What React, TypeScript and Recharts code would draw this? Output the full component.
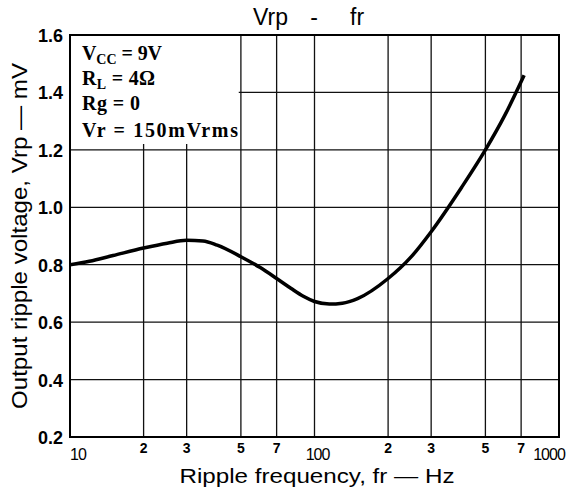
import { useEffect } from "react";
import {
  CartesianGrid,
  Line,
  LineChart,
  ReferenceArea,
  XAxis,
  YAxis,
} from "recharts";

// ripple frequency (Hz) vs output ripple voltage (mV)
const freq = [10, 12, 15, 20, 25, 30, 35, 40, 50, 60, 70, 80, 90, 100, 115, 130, 150, 200, 250, 300, 400, 500, 600, 720];
const vrp = [0.8, 0.812, 0.832, 0.858, 0.875, 0.885, 0.883, 0.868, 0.828, 0.79, 0.752, 0.718, 0.69, 0.672, 0.663, 0.666, 0.682, 0.752, 0.83, 0.915, 1.07, 1.2, 1.32, 1.46];

const xTicks = [10, 20, 30, 50, 70, 100, 200, 300, 500, 700, 1000];
const xTickLabels = ["10", "2", "3", "5", "7", "100", "2", "3", "5", "7", "1000"];
const yTicks = [0.2, 0.4, 0.6, 0.8, 1.0, 1.2, 1.4, 1.6];

const data = freq.map((f, i) => ({ f, v: vrp[i] }));

const W = 569;
const H = 493;
const sans = "'Liberation Sans', Arial, sans-serif";
const serif = "'Liberation Serif', 'Times New Roman', serif";

function XTick(props: any) {
  const { x, y, payload, index } = props;
  const label = xTickLabels[index] ?? String(payload.value);
  const decade = label.length > 1;
  let dx = 0;
  if (label === "10") dx = 8;
  if (label === "1000") dx = -10;
  if (label === "100") dx = 3;
  return (
    <text
      x={x + dx}
      y={y + (decade ? 15 : 8)}
      textAnchor="middle"
      fontFamily={sans}
      fontSize={decade ? 16 : 14}
      fontWeight={decade ? "normal" : "bold"}
      letterSpacing={decade ? -1 : 0}
      fill="#000"
    >
      {label}
    </text>
  );
}

function YTick(props: any) {
  const { x, y, payload } = props;
  return (
    <text
      x={x - 24}
      y={y + 7}
      fontFamily={sans}
      fontSize={19}
      fontWeight="bold"
      textLength={25}
      lengthAdjust="spacingAndGlyphs"
      fill="#000"
    >
      {Number(payload.value).toFixed(1)}
    </text>
  );
}

export default function App() {
  useEffect(() => {
    document.body.style.margin = "0";
  }, []);

  return (
    <div style={{ position: "relative", width: W, height: H, background: "#fff" }}>
      <LineChart
        width={W}
        height={H}
        data={data}
        margin={{ top: 35, right: 10, bottom: 0, left: 0 }}
      >
        <CartesianGrid stroke="#111" strokeWidth={1.3} />
        <XAxis
          dataKey="f"
          type="number"
          scale="log"
          domain={[10, 1000]}
          ticks={xTicks}
          allowDataOverflow
          axisLine={false}
          tickLine={false}
          tick={<XTick />}
          interval={0}
          height={56}
        />
        <YAxis
          type="number"
          domain={[0.2, 1.6]}
          ticks={yTicks}
          axisLine={false}
          tickLine={false}
          tick={<YTick />}
          interval={0}
          width={70}
        />
        {/* blank patch under the test conditions */}
        <ReferenceArea x1={10} x2={49} y1={1.22} y2={1.6} fill="#fff" fillOpacity={1} stroke="none" />
        <ReferenceArea x1={10} x2={1000} y1={0.2} y2={1.6} fill="none" stroke="#000" strokeWidth={2} />
        <Line
          type="monotone"
          dataKey="v"
          stroke="#000"
          strokeWidth={3.5}
          dot={false}
          isAnimationActive={false}
        />
      </LineChart>
      <svg
        width={W}
        height={H}
        style={{ position: "absolute", left: 0, top: 0, pointerEvents: "none" }}
      >
        <g fontFamily={sans} fontSize={23} fill="#000">
          <text x={253} y={25}>Vrp</text>
          <text x={314} y={25} textAnchor="middle">-</text>
          <text x={350} y={25}>fr</text>
        </g>
        <g fontFamily={serif} fontWeight="bold" fontSize={20} fill="#000">
          <text x={82} y={60} textLength={80} lengthAdjust="spacing">
            V<tspan fontSize={14} dy={4}>CC</tspan>
            <tspan dy={-4}> = 9V</tspan>
          </text>
          <text x={82} y={85} textLength={73} lengthAdjust="spacing">
            R<tspan fontSize={14} dy={4}>L</tspan>
            <tspan dy={-4}> = 4Ω</tspan>
          </text>
          <text x={82} y={110} textLength={58} lengthAdjust="spacing">Rg = 0</text>
          <text x={82} y={137} textLength={156} lengthAdjust="spacing">Vr = 150mVrms</text>
        </g>
        <text
          transform="translate(27,236) rotate(-90)"
          textAnchor="middle"
          fontFamily={sans}
          fontSize={22}
          textLength={346}
          lengthAdjust="spacingAndGlyphs"
        >
          Output ripple voltage, Vrp — mV
        </text>
        <text
          x={317}
          y={483}
          textAnchor="middle"
          fontFamily={sans}
          fontSize={21}
          textLength={275}
          lengthAdjust="spacingAndGlyphs"
        >
          Ripple frequency, fr — Hz
        </text>
      </svg>
    </div>
  );
}
